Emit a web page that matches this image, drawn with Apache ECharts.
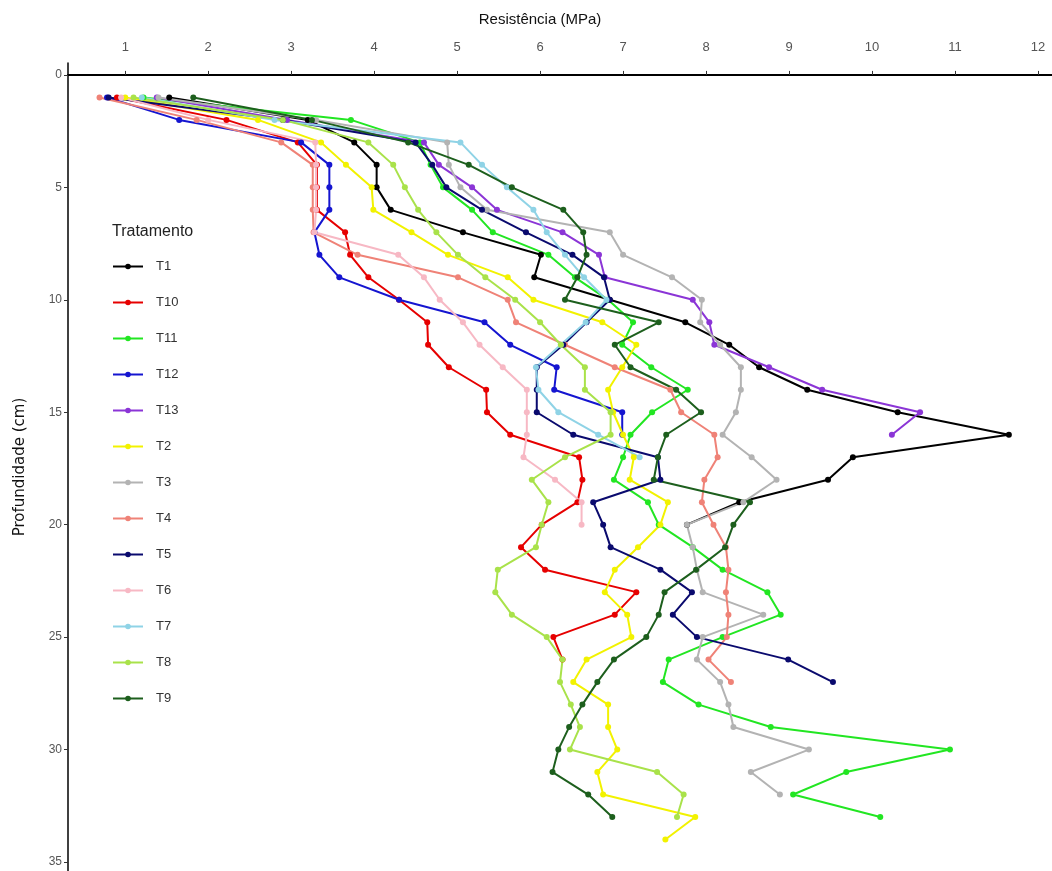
<!DOCTYPE html>
<html>
<head>
<meta charset="utf-8">
<script src="https://cdn.jsdelivr.net/npm/echarts@6/dist/echarts.min.js"></script>
<style>
  html, body { margin: 0; padding: 0; background: #fff; }
  #chart { width: 1052px; height: 871px; }
</style>
</head>
<body>
<div id="chart"></div>
<script>
// tratamentos, na ordem da legenda
var names = ['T1', 'T10', 'T11', 'T12', 'T13', 'T2', 'T3', 'T4', 'T5', 'T6', 'T7', 'T8', 'T9'];
var colors = ['#000000', '#e60000', '#22e622', '#1515d0', '#8b35d6', '#f2f200', '#b3b3b3',
              '#ef8277', '#0a0a6e', '#f7b8c4', '#8fd3e6', '#a9e24a', '#1d5f1d'];

var xTicks = [1, 2, 3, 4, 5, 6, 7, 8, 9, 10, 11, 12];
var yTicks = [0, 5, 10, 15, 20, 25, 30, 35];

// resistencia (MPa) por profundidade 1, 2, 3 ... cm
var t1 = [1.53, 3.2, 3.76, 4.03, 4.03, 4.2, 5.07, 6.01, 5.93, 6.84, 7.75, 8.28, 8.64, 9.22, 10.31, 11.65, 9.77, 9.47, 8.4, 7.77];
var t10 = [0.9, 2.22, 3.08, 3.31, 3.31, 3.31, 3.65, 3.71, 3.93, 4.3, 4.64, 4.65, 4.9, 5.35, 5.36, 5.64, 6.47, 6.51, 6.45, 6.02, 5.77, 6.06, 7.16, 6.9, 6.16, 6.27];
var t11 = [1.22, 3.72, 4.55, 4.68, 4.83, 5.18, 5.43, 6.1, 6.42, 6.82, 7.12, 6.99, 7.34, 7.78, 7.35, 7.09, 7.0, 6.89, 7.3, 7.43, 7.84, 8.2, 8.74, 8.9, 8.2, 7.55, 7.48, 7.91, 8.78, 10.94, 9.69, 9.05, 10.1];
var t12 = [0.78, 1.65, 3.12, 3.46, 3.46, 3.46, 3.28, 3.34, 3.58, 4.3, 5.33, 5.64, 6.2, 6.17, 6.99, 6.99];
var t13 = [1.38, 2.95, 4.6, 4.78, 5.18, 5.48, 6.27, 6.71, 6.78, 7.84, 8.04, 8.1, 8.76, 9.4, 10.58, 10.24];
var t2 = [1.0, 2.6, 3.36, 3.66, 3.97, 3.99, 4.45, 4.89, 5.61, 5.92, 6.75, 7.16, 6.99, 6.82, 6.88, 7.0, 7.13, 7.08, 7.54, 7.45, 7.18, 6.9, 6.78, 7.05, 7.1, 6.56, 6.4, 6.82, 6.82, 6.93, 6.69, 6.76, 7.87, 7.51];
var t3 = [1.4, 3.3, 4.88, 4.9, 5.04, 5.36, 6.84, 7.0, 7.59, 7.95, 7.93, 8.17, 8.42, 8.42, 8.36, 8.2, 8.55, 8.85, 8.45, 7.77, 7.84, 7.89, 7.96, 8.69, 7.96, 7.89, 8.17, 8.27, 8.33, 9.24, 8.54, 8.89];
var t4 = [0.69, 1.86, 2.88, 3.26, 3.26, 3.26, 3.27, 3.8, 5.01, 5.61, 5.71, 6.3, 6.9, 7.57, 7.7, 8.1, 8.14, 7.98, 7.95, 8.09, 8.24, 8.27, 8.24, 8.27, 8.25, 8.03, 8.3];
var t5 = [0.8, 2.9, 4.5, 4.7, 4.87, 5.3, 5.83, 6.39, 6.77, 6.84, 6.56, 6.28, 5.96, 5.96, 5.96, 6.4, 7.42, 7.45, 6.64, 6.76, 6.85, 7.45, 7.83, 7.6, 7.89, 8.99, 9.53];
var t6 = [0.95, 2.0, 3.29, 3.3, 3.3, 3.3, 3.28, 4.29, 4.6, 4.79, 5.07, 5.27, 5.55, 5.84, 5.84, 5.84, 5.8, 6.18, 6.5, 6.5];
var t7 = [1.2, 2.8, 5.04, 5.3, 5.6, 5.92, 6.08, 6.3, 6.53, 6.8, 6.55, 6.25, 5.95, 5.98, 6.22, 6.7, 7.2];
var t8 = [1.1, 2.9, 3.93, 4.23, 4.37, 4.53, 4.75, 5.01, 5.34, 5.7, 6.0, 6.25, 6.54, 6.54, 6.85, 6.85, 6.3, 5.9, 6.1, 6.02, 5.95, 5.49, 5.46, 5.66, 6.08, 6.27, 6.24, 6.37, 6.48, 6.36, 7.41, 7.73, 7.65];
var t9 = [1.82, 3.25, 4.41, 5.14, 5.66, 6.28, 6.52, 6.56, 6.45, 6.3, 7.43, 6.9, 7.09, 7.64, 7.94, 7.52, 7.42, 7.37, 8.53, 8.33, 8.23, 7.88, 7.5, 7.43, 7.28, 6.89, 6.69, 6.51, 6.35, 6.22, 6.15, 6.58, 6.87];

var values = [t1, t10, t11, t12, t13, t2, t3, t4, t5, t6, t7, t8, t9];

var myChart = echarts.init(document.getElementById('chart'));

var series = names.map(function (n, i) {
    return {
        name: n,
        type: 'line',
        symbol: 'circle',
        symbolSize: 6,
        lineStyle: { width: 2, color: colors[i] },
        itemStyle: { color: colors[i] },
        emphasis: { disabled: true },
        data: values[i].map(function (v, k) { return [v, k + 1]; })
    };
});

var option = {
    animation: false,
    backgroundColor: '#ffffff',
    textStyle: { fontFamily: 'Liberation Sans' },
    title: {
        text: 'Tratamento',
        left: 107,
        top: 219,
        textStyle: { fontSize: 16, fontWeight: 'normal', color: '#222' }
    },
    legend: {
        orient: 'vertical',
        left: 107,
        top: 255,
        itemWidth: 30,
        itemHeight: 7,
        itemGap: 23,
        textStyle: { fontSize: 13, color: '#333', padding: [0, 0, 0, 8] },
        data: names
    },
    grid: {
        left: 68,
        top: 63,
        width: 984,
        height: 808
    },
    xAxis: {
        type: 'value',
        position: 'top',
        min: 0.31,
        max: 12.17,
        name: 'Resistência (MPa)',
        nameLocation: 'middle',
        nameGap: 36,
        nameTextStyle: { fontSize: 15, color: '#111', padding: [0, 40, 0, 0] },
        axisLine: { show: true, lineStyle: { color: '#000', width: 2 } },
        axisTick: { show: true, length: 4, customValues: xTicks, lineStyle: { color: '#333' } },
        axisLabel: { customValues: xTicks, fontSize: 13, color: '#555', margin: 9 },
        splitLine: { show: false }
    },
    yAxis: {
        type: 'value',
        inverse: true,
        min: -0.53,
        max: 35.4,
        name: 'Profundidade (cm)',
        nameLocation: 'middle',
        nameGap: 40,
        nameTextStyle: { fontSize: 15, color: '#111', fontFamily: 'DejaVu Sans' },
        axisLine: { show: true, lineStyle: { color: '#000', width: 1.5 } },
        axisTick: { show: true, length: 4, customValues: yTicks, lineStyle: { color: '#333' } },
        axisLabel: { customValues: yTicks, fontSize: 12, color: '#555', margin: 6 },
        splitLine: { show: false }
    },
    series: series
};
myChart.setOption(option);
</script>
</body>
</html>
